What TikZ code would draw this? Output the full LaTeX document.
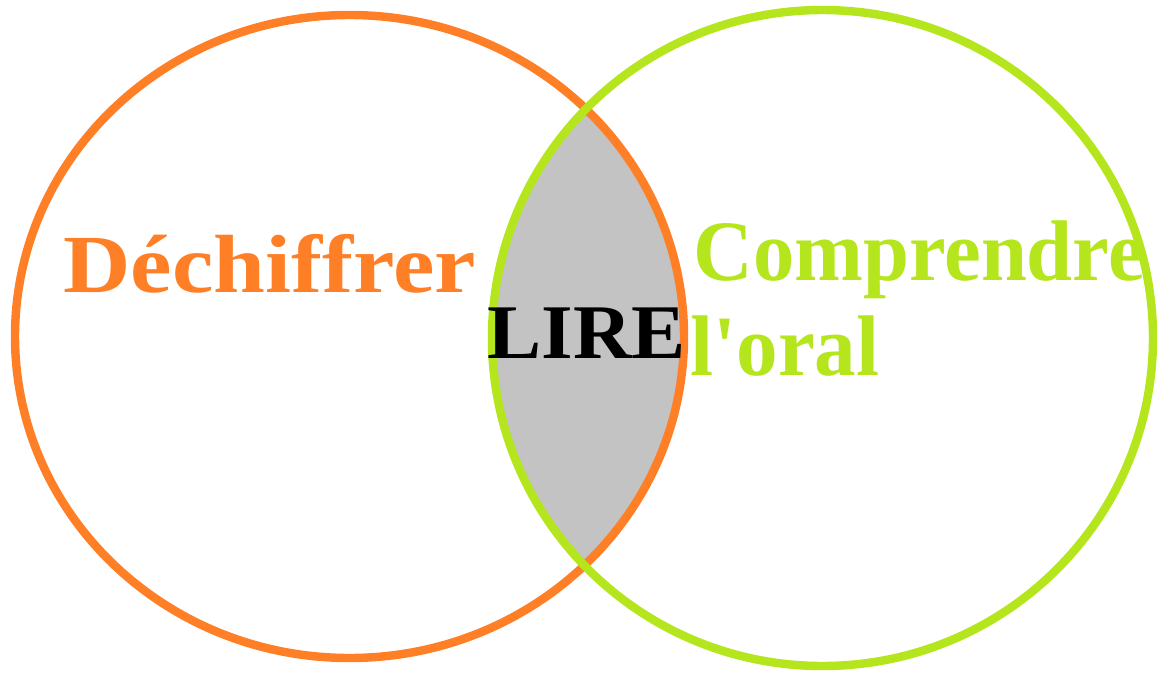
\documentclass[tikz,border=0pt]{standalone}
\usepackage{fontspec}
\newfontfamily\labfont{Liberation Serif}
\definecolor{vorange}{RGB}{255,127,39}
\definecolor{vlime}{RGB}{181,230,29}
\definecolor{vgray}{RGB}{195,195,195}
\begin{document}
\begin{tikzpicture}[x=0.02cm,y=-0.02cm,
  ring/.style={line width=4.8pt},
  lbl/.style={inner sep=0pt,anchor=base west}]
\useasboundingbox (0,0) rectangle (1161,674);
\begin{scope}
  \clip (349.5,336.5) ellipse [x radius=334.5, y radius=321.5];
  \fill[vgray] (822.5,338) ellipse [x radius=330.5, y radius=328];
\end{scope}
\draw[ring,vorange] (349.5,336.5) ellipse [x radius=334.5, y radius=321.5];
\draw[ring,vlime] (822.5,338) ellipse [x radius=330.5, y radius=328];
\node[lbl,text=vorange,font=\labfont\bfseries\fontsize{47}{56}\selectfont] (dech) at (63,292) {\scalebox{1.13}[1]{Déchiffrer}};
\node[lbl,text=vlime,font=\labfont\bfseries\fontsize{49}{56}\selectfont] (comp) at (693,280) {\scalebox{0.96}[1]{Comprendre}};
\node[lbl,text=vlime,font=\labfont\bfseries\fontsize{49}{56}\selectfont] (oral) at (690,375) {\scalebox{0.965}[1]{l'oral}};
\node[lbl,text=black,font=\labfont\bfseries\fontsize{44}{52}\selectfont] (lire) at (487,358) {\scalebox{1.05}[1]{LIRE}};
\end{tikzpicture}
\end{document}
